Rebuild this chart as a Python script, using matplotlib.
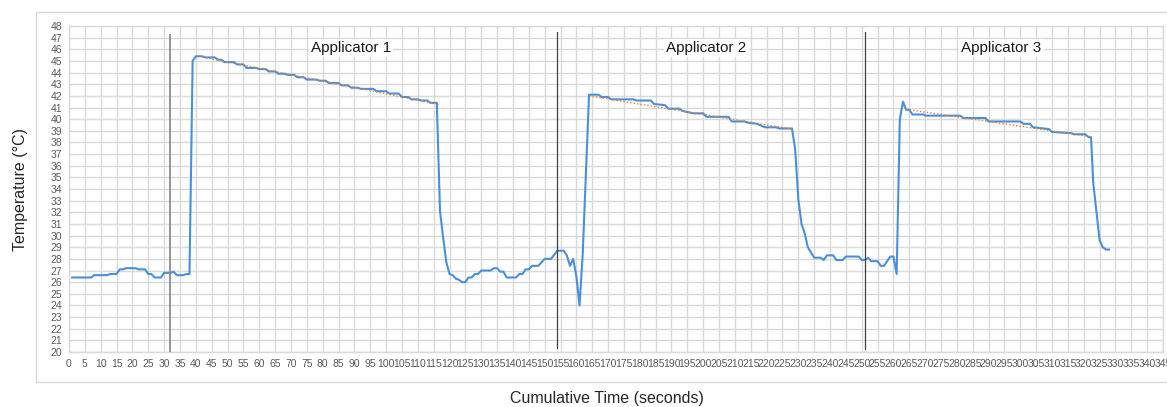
import numpy as np
import matplotlib.pyplot as plt
from matplotlib.patches import Rectangle

plt.rcParams['font.family'] = ['Liberation Sans', 'DejaVu Sans']

# temperature trace (vertices)
time_s = [1, 7, 8, 12, 13, 15, 16, 17, 18, 21, 22, 24, 25, 26, 27, 29, 30, 32, 33, 34, 36, 37, 38,
          39, 40, 42, 43, 46, 47, 48, 49, 52, 53, 55, 56, 59, 60, 62, 63, 65, 66, 68, 69, 71, 72, 74,
          75, 78, 79, 81, 82, 85, 86, 88, 89, 91, 92, 96, 97, 100, 101, 104, 105, 107, 108, 110, 111,
          113, 114, 116, 117, 118, 119, 120, 121, 122, 123, 124, 125, 126, 127, 128, 129, 130, 133,
          134, 135, 136, 137, 138, 141, 142, 143, 144, 145, 146, 148, 150, 152, 154, 156, 157, 158,
          159, 160, 161, 162, 164, 167, 168, 170, 171, 178, 179, 183.5, 184.5, 188, 189, 192.5, 193.5,
          197, 200, 201, 208, 209, 213, 214, 217, 219.5, 223, 224, 228, 229, 230, 231, 232, 233, 235,
          237, 238, 239, 241, 242, 244, 245, 249, 250, 251, 252, 253, 255, 256, 257, 259, 260, 261,
          262, 263, 264, 265, 266, 269.5, 270, 281, 282, 289, 290, 300, 301, 303, 304, 309, 310, 316,
          317, 320.5, 321.5, 322.3, 323, 325, 326, 327, 328]
temp_c = [26.4, 26.4, 26.6, 26.6, 26.7, 26.7, 27.1, 27.1, 27.2, 27.2, 27.1, 27.1, 26.7, 26.7, 26.4,
          26.4, 26.8, 26.8, 26.9, 26.6, 26.6, 26.7, 26.7,
          45.0, 45.4, 45.4, 45.3, 45.3, 45.1, 45.1, 44.9, 44.9, 44.7, 44.7, 44.4, 44.4, 44.3, 44.3,
          44.1, 44.1, 43.9, 43.9, 43.8, 43.8, 43.6, 43.6, 43.4, 43.4, 43.3, 43.3, 43.1, 43.1, 42.9,
          42.9, 42.7, 42.7, 42.6, 42.6, 42.4, 42.4, 42.2, 42.2, 41.9, 41.9, 41.7, 41.7, 41.6, 41.6,
          41.4, 41.4, 32.1, 29.8, 27.7, 26.7, 26.6, 26.3, 26.2, 26.0, 26.0, 26.4, 26.4, 26.7, 26.7,
          27.0, 27.0, 27.2, 27.2, 26.9, 26.9, 26.4, 26.4, 26.7, 26.7, 27.1, 27.1, 27.4, 27.4, 28.0,
          28.0, 28.7, 28.7, 28.3, 27.4, 28.0, 26.5, 24.0, 28.4, 42.1, 42.1, 41.9, 41.9, 41.7, 41.7,
          41.6, 41.6, 41.3, 41.2, 40.9, 40.9, 40.7, 40.5, 40.5, 40.2, 40.2, 39.8, 39.8, 39.7, 39.6,
          39.3, 39.3, 39.2, 39.2, 37.4, 33.1, 31.0, 30.2, 29.0, 28.1, 28.1, 27.9, 28.3, 28.3, 27.9,
          27.9, 28.2, 28.2, 27.9, 27.9, 28.1, 27.8, 27.8, 27.4, 27.4, 28.2, 28.2, 26.7, 40.0, 41.5,
          40.8, 40.8, 40.4, 40.4, 40.3, 40.3, 40.1, 40.1, 39.8, 39.8, 39.6, 39.6, 39.3, 39.15, 38.9,
          38.8, 38.7, 38.7, 38.45, 38.45, 34.5, 29.6, 29.0, 28.8, 28.8]

# linear trend lines over each applicator plateau (start, end)
trend_t = [[41, 117], [164, 228], [264, 322]]
trend_T = [[45.4, 41.25], [42.0, 39.15], [40.85, 38.5]]

# applicator separators
sep_x = [32, 154, 251]
sep_top = [47.25, 47.5, 47.45]
sep_bottom = [20.0, 20.35, 20.25]
sep_color = ['#8c8c8c', '#404040', '#404040']
sep_width = [1.3, 0.9, 0.9]

labels = ['Applicator 1', 'Applicator 2', 'Applicator 3']
label_x = [89, 201, 294]
label_y = 46.1

fig = plt.figure(figsize=(11.67, 4.07), dpi=100)
fig.patches.append(Rectangle((0.031, 0.061), 0.99, 0.91, transform=fig.transFigure,
                             fill=False, edgecolor='#d9d9d9', lw=1))
ax = fig.add_axes([0.0591, 0.1351, 0.9375, 0.801])

ax.plot(time_s, temp_c, color='#4a90d9', lw=1.5, zorder=3)
for tt, TT in zip(trend_t, trend_T):
    ax.plot(tt, TT, color='#ed7d31', ls=(0, (1, 1.5)), lw=1.0, zorder=4)
for x, y0, y1, c, w in zip(sep_x, sep_bottom, sep_top, sep_color, sep_width):
    ax.plot([x, x], [y0, y1], color=c, lw=w, zorder=5)
for lb, x in zip(labels, label_x):
    ax.text(x, label_y, lb, ha='center', va='center', fontsize=11, color='#1a1a1a',
            bbox=dict(facecolor='white', edgecolor='none', pad=1.5), zorder=6)

ax.set_xlim(0, 345)
ax.set_ylim(20, 48)
ax.set_xticks(np.arange(0, 346, 5))
ax.set_yticks(np.arange(20, 49, 1))
ax.tick_params(axis='both', length=0, labelsize=7.5, labelcolor='#595959')
ax.tick_params(axis='x', pad=5)
ax.tick_params(axis='y', pad=5)
ax.grid(True, color='#d9d9d9', lw=1.0)
ax.set_axisbelow(True)
for s in ax.spines.values():
    s.set_color('#d9d9d9')
    s.set_linewidth(1.0)

ax.set_ylabel('Temperature (\u00b0C)', fontsize=11.5, color='#262626', labelpad=16)
fig.text(0.52, 0.02, 'Cumulative Time (seconds)', ha='center', va='center', fontsize=11.5,
         color='#262626')

fig.savefig('out.png', dpi=100)
